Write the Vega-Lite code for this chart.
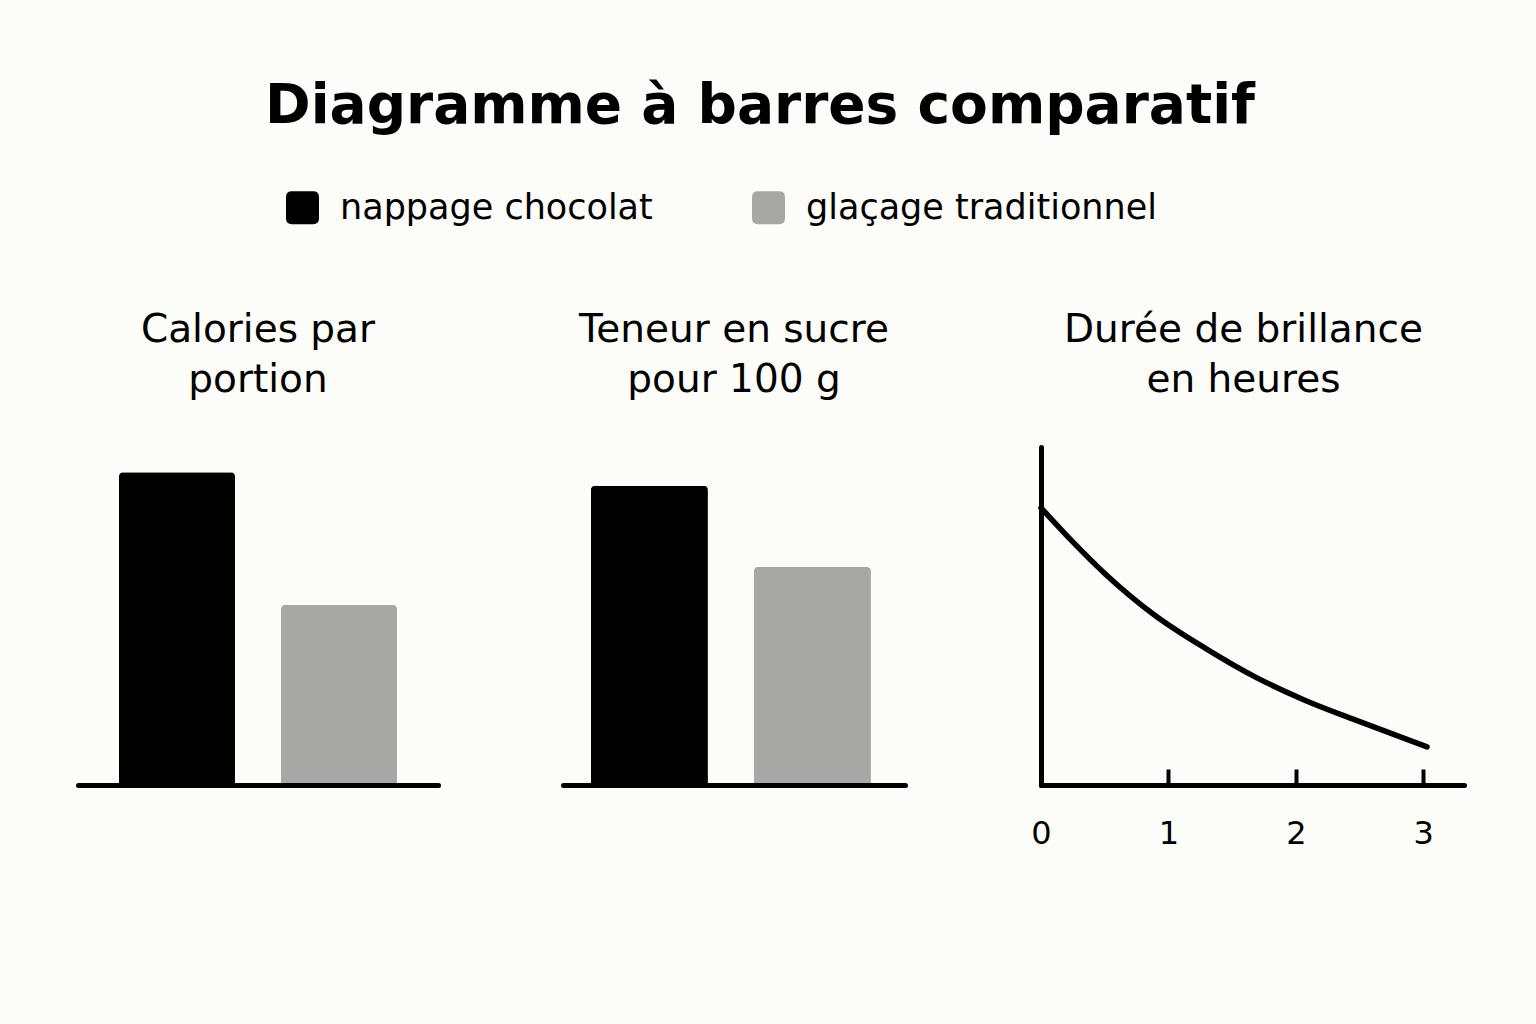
{
  "$schema": "https://vega.github.io/schema/vega-lite/v6.json",
  "background": "#fcfcf8",
  "padding": {"left": 78, "top": 79, "right": 80, "bottom": 200},
  "title": {"text": "Diagramme à barres comparatif", "fontSize": 55, "font": "DejaVu Sans", "fontWeight": "bold", "color": "#000000", "anchor": "middle", "offset": 55, "dx": -11},
  "config": {
    "view": {"stroke": null},
    "font": "DejaVu Sans",
    "axis": {"domainColor": "#000000", "domainWidth": 5, "domainCap": "round", "grid": false, "title": null},
    "title": {"font": "DejaVu Sans", "fontSize": 39, "fontWeight": "normal", "color": "#000000", "lineHeight": 50, "offset": 47, "anchor": "middle"}
  },
  "spacing": 125,
  "hconcat": [
    {
      "width": 360,
      "height": 338,
      "title": {"text": ["Calories par", "portion"]},
      "data": {"values": [
        {"serie": "nappage chocolat", "valeur": 370},
        {"serie": "glaçage traditionnel", "valeur": 213}
      ]},
      "mark": {"type": "bar", "cornerRadiusEnd": 4},
      "encoding": {
        "x": {"field": "serie", "type": "nominal", "sort": ["nappage chocolat", "glaçage traditionnel"],
              "scale": {"paddingInner": 0.284, "paddingOuter": 0.253, "align": 0.5},
              "axis": {"labels": false, "ticks": false, "zindex": 1}},
        "y": {"field": "valeur", "type": "quantitative", "scale": {"domain": [0, 400]}, "axis": null},
        "color": {"field": "serie", "type": "nominal",
                  "scale": {"domain": ["nappage chocolat", "glaçage traditionnel"], "range": ["#000000", "#a7a7a5"]},
                  "legend": {"orient": "none", "legendX": 207, "legendY": -257, "direction": "horizontal", "title": null,
                             "symbolType": "M -0.64 -1 L 0.64 -1 Q 1 -1 1 -0.64 L 1 0.64 Q 1 1 0.64 1 L -0.64 1 Q -1 1 -1 0.64 L -1 -0.64 Q -1 -1 -0.64 -1 Z",
                             "symbolSize": 1089, "symbolStrokeWidth": 0, "symbolOpacity": 1, "labelLimit": 600,
                             "labelFontSize": 35, "labelFont": "DejaVu Sans", "labelColor": "#000000", "labelOffset": 20, "columnPadding": 98}}
      }
    },
    {
      "width": 342,
      "height": 338,
      "title": {"text": ["Teneur en sucre", "pour 100 g"]},
      "data": {"values": [
        {"serie": "nappage chocolat", "valeur": 88.5},
        {"serie": "glaçage traditionnel", "valeur": 64.5}
      ]},
      "mark": {"type": "bar", "cornerRadiusEnd": 4},
      "encoding": {
        "x": {"field": "serie", "type": "nominal", "sort": ["nappage chocolat", "glaçage traditionnel"],
              "scale": {"paddingInner": 0.282, "paddingOuter": 0.19, "align": 0.45},
              "axis": {"labels": false, "ticks": false, "zindex": 1}},
        "y": {"field": "valeur", "type": "quantitative", "scale": {"domain": [0, 100]}, "axis": null},
        "color": {"field": "serie", "type": "nominal",
                  "scale": {"domain": ["nappage chocolat", "glaçage traditionnel"], "range": ["#000000", "#a7a7a5"]},
                  "legend": {"orient": "none", "legendX": 207, "legendY": -257, "direction": "horizontal", "title": null,
                             "symbolType": "M -0.64 -1 L 0.64 -1 Q 1 -1 1 -0.64 L 1 0.64 Q 1 1 0.64 1 L -0.64 1 Q -1 1 -1 0.64 L -1 -0.64 Q -1 -1 -0.64 -1 Z",
                             "symbolSize": 1089, "symbolStrokeWidth": 0, "symbolOpacity": 1, "labelLimit": 600,
                             "labelFontSize": 35, "labelFont": "DejaVu Sans", "labelColor": "#000000", "labelOffset": 20, "columnPadding": 98}}
      }
    },
    {
      "width": 423,
      "height": 338,
      "title": {"text": ["Durée de brillance", "en heures"], "dx": -9},
      "data": {"values": [
        {"heures": 0, "brillance": 82},
        {"heures": 0.24, "brillance": 72.3},
        {"heures": 0.5, "brillance": 62.6},
        {"heures": 0.89, "brillance": 50.3},
        {"heures": 1.31, "brillance": 40},
        {"heures": 1.68, "brillance": 32},
        {"heures": 2.07, "brillance": 25.1},
        {"heures": 2.47, "brillance": 19.2},
        {"heures": 3.03, "brillance": 11.3}
      ]},
      "mark": {"type": "line", "interpolate": "monotone", "color": "#000000", "strokeWidth": 5.5, "strokeCap": "round"},
      "encoding": {
        "x": {"field": "heures", "type": "quantitative", "scale": {"domain": [0, 3.32], "nice": false},
              "axis": {"values": [0, 1, 2, 3], "format": "d", "tickSize": -16, "tickWidth": 4, "tickColor": "#000000", "labelFlush": false,
                       "labelFontSize": 32, "labelColor": "#000000", "labelPadding": 49, "labelFont": "DejaVu Sans", "zindex": 1}},
        "y": {"field": "brillance", "type": "quantitative", "scale": {"domain": [0, 100]},
              "axis": {"labels": false, "ticks": false, "zindex": 1}}
      }
    }
  ]
}
